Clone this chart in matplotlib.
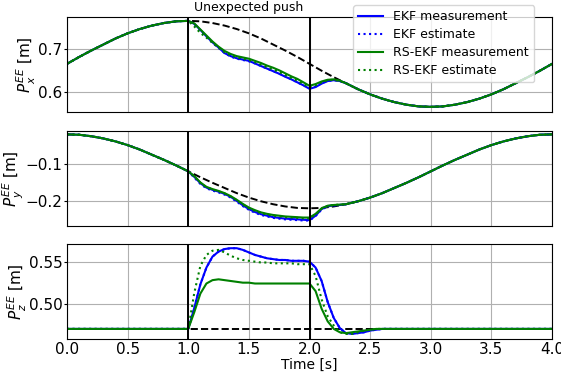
import numpy as np
import matplotlib
matplotlib.use("Agg")
import matplotlib.pyplot as plt

# reference trajectory (dashed), sampled every 0.1 s
t_ref = np.round(np.arange(0, 4.01, 0.1), 2)
x_ref = [0.665, 0.681, 0.696, 0.710, 0.724, 0.736, 0.746, 0.754, 0.760, 0.764, 0.765,
         0.764, 0.760, 0.754, 0.746, 0.736, 0.724, 0.710, 0.696, 0.681, 0.665,
         0.649, 0.634, 0.620, 0.606, 0.594, 0.584, 0.576, 0.570, 0.566, 0.565,
         0.566, 0.570, 0.576, 0.584, 0.594, 0.606, 0.620, 0.634, 0.649, 0.665]
y_ref = [-0.020, -0.021, -0.025, -0.031, -0.039, -0.049, -0.061, -0.075, -0.089, -0.104, -0.120,
         -0.136, -0.151, -0.165, -0.179, -0.191, -0.201, -0.209, -0.215, -0.219, -0.220,
         -0.219, -0.215, -0.209, -0.201, -0.191, -0.179, -0.165, -0.151, -0.136, -0.120,
         -0.104, -0.089, -0.075, -0.061, -0.049, -0.039, -0.031, -0.025, -0.021, -0.020]
z_ref = [0.470] * 41

# filter outputs during the push window (1.0 - 2.6 s, every 0.05 s)
t_push = np.round(np.arange(1.0, 2.601, 0.05), 2)

x_ekf_meas = [0.765, 0.758, 0.744, 0.729, 0.715, 0.703, 0.690, 0.683, 0.678, 0.675, 0.672,
              0.666, 0.660, 0.654, 0.648, 0.642, 0.635, 0.629, 0.622, 0.615, 0.607,
              0.611, 0.619, 0.625, 0.627, 0.625, 0.620, 0.613, 0.606, 0.600, 0.594, 0.589, 0.584]
x_ekf_est = [0.765, 0.757, 0.743, 0.728, 0.714, 0.702, 0.690, 0.682, 0.677, 0.674, 0.671,
             0.666, 0.660, 0.654, 0.648, 0.642, 0.636, 0.629, 0.622, 0.615, 0.608,
             0.612, 0.620, 0.625, 0.627, 0.625, 0.620, 0.613, 0.606, 0.600, 0.594, 0.589, 0.584]
x_rs_meas = [0.765, 0.759, 0.745, 0.731, 0.717, 0.705, 0.695, 0.688, 0.683, 0.680, 0.677,
             0.672, 0.667, 0.661, 0.656, 0.650, 0.643, 0.636, 0.630, 0.622, 0.614,
             0.618, 0.624, 0.628, 0.629, 0.626, 0.620, 0.613, 0.606, 0.600, 0.594, 0.589, 0.584]
x_rs_est = [0.765, 0.752, 0.737, 0.726, 0.714, 0.703, 0.692, 0.685, 0.680, 0.677, 0.674,
            0.669, 0.663, 0.657, 0.652, 0.646, 0.639, 0.632, 0.626, 0.618, 0.611,
            0.615, 0.622, 0.627, 0.628, 0.625, 0.620, 0.613, 0.606, 0.600, 0.594, 0.589, 0.584]

y_ekf_meas = [-0.120, -0.135, -0.152, -0.164, -0.170, -0.175, -0.181, -0.189, -0.200, -0.212, -0.222,
              -0.230, -0.236, -0.240, -0.244, -0.246, -0.248, -0.249, -0.250, -0.251, -0.252,
              -0.240, -0.222, -0.214, -0.212, -0.211, -0.209, -0.205, -0.201, -0.196, -0.191, -0.185, -0.179]
y_ekf_est = [-0.120, -0.137, -0.154, -0.166, -0.172, -0.177, -0.183, -0.191, -0.202, -0.214, -0.224,
             -0.232, -0.238, -0.242, -0.246, -0.248, -0.250, -0.251, -0.252, -0.253, -0.253,
             -0.241, -0.223, -0.215, -0.212, -0.211, -0.209, -0.205, -0.201, -0.196, -0.191, -0.185, -0.179]
y_rs_meas = [-0.120, -0.133, -0.150, -0.162, -0.168, -0.173, -0.179, -0.187, -0.197, -0.208, -0.218,
             -0.225, -0.231, -0.235, -0.238, -0.240, -0.242, -0.243, -0.244, -0.245, -0.245,
             -0.235, -0.220, -0.213, -0.211, -0.210, -0.209, -0.205, -0.201, -0.196, -0.191, -0.185, -0.179]
y_rs_est = [-0.120, -0.134, -0.151, -0.163, -0.169, -0.174, -0.180, -0.188, -0.198, -0.210, -0.220,
            -0.227, -0.233, -0.237, -0.240, -0.242, -0.244, -0.245, -0.246, -0.247, -0.247,
            -0.237, -0.221, -0.214, -0.211, -0.210, -0.209, -0.205, -0.201, -0.196, -0.191, -0.185, -0.179]

z_ekf_meas = [0.470, 0.495, 0.523, 0.543, 0.556, 0.562, 0.565, 0.566, 0.566, 0.564, 0.561,
              0.558, 0.556, 0.554, 0.553, 0.552, 0.552, 0.551, 0.551, 0.551, 0.550,
              0.543, 0.527, 0.502, 0.483, 0.471, 0.465, 0.464, 0.465, 0.466, 0.468, 0.469, 0.470]
z_ekf_est = list(z_ekf_meas)
z_rs_meas = [0.470, 0.490, 0.512, 0.524, 0.528, 0.529, 0.528, 0.527, 0.526, 0.525, 0.525,
             0.524, 0.524, 0.524, 0.524, 0.524, 0.524, 0.524, 0.524, 0.524, 0.524,
             0.515, 0.494, 0.479, 0.470, 0.466, 0.465, 0.466, 0.467, 0.468, 0.469, 0.470, 0.470]
z_rs_est = [0.470, 0.513, 0.545, 0.558, 0.563, 0.564, 0.561, 0.557, 0.554, 0.552, 0.551,
            0.550, 0.549, 0.549, 0.548, 0.548, 0.548, 0.548, 0.547, 0.547, 0.547,
            0.533, 0.505, 0.485, 0.474, 0.466, 0.464, 0.464, 0.466, 0.468, 0.469, 0.470, 0.470]


def full(ref, push):
    # reference outside the push window, filter values inside it
    ref = np.asarray(ref)
    before = t_ref < 1.0
    after = t_ref > 2.6
    tt = np.concatenate([t_ref[before], t_push, t_ref[after]])
    vv = np.concatenate([ref[before], push, ref[after]])
    return tt, vv


panels = [
    (x_ref, x_ekf_meas, x_ekf_est, x_rs_meas, x_rs_est, r'$P_x^{EE}$ [m]', (0.553, 0.774), [0.6, 0.7]),
    (y_ref, y_ekf_meas, y_ekf_est, y_rs_meas, y_rs_est, r'$P_y^{EE}$ [m]', (-0.268, -0.011), [-0.2, -0.1]),
    (z_ref, z_ekf_meas, z_ekf_est, z_rs_meas, z_rs_est, r'$P_z^{EE}$ [m]', (0.458, 0.571), [0.50, 0.55]),
]
bottoms = [0.7037, 0.402, 0.1032]

fig = plt.figure(figsize=(5.61, 3.78), dpi=100)
axes = []
for i, (ref, em, ee, rm, re, lab, ylim, yt) in enumerate(panels):
    ax = fig.add_axes([0.1194, bottoms[i], 0.8646, 0.2513])
    ax.plot(t_ref, ref, 'k--', lw=1.4)
    ax.plot(*full(ref, em), color='blue', lw=1.5, label='EKF measurement')
    ax.plot(*full(ref, ee), color='blue', ls=':', lw=1.5, label='EKF estimate')
    ax.plot(*full(ref, rm), color='green', lw=1.5, label='RS-EKF measurement')
    ax.plot(*full(ref, re), color='green', ls=':', lw=1.5, label='RS-EKF estimate')
    ax.axvline(1.0, color='k', lw=1.4)
    ax.axvline(2.0, color='k', lw=1.4)
    ax.set_xlim(0, 4)
    ax.set_ylim(*ylim)
    ax.set_yticks(yt)
    ax.set_xticks(np.arange(0, 4.01, 0.5))
    ax.grid(True)
    ax.set_ylabel(lab, fontsize=11, labelpad=0)
    ax.tick_params(labelsize=11)
    ax.tick_params(axis='x', length=0, pad=2.5)
    ax.tick_params(axis='y', length=2.5, pad=0.8)
    if i < 2:
        ax.tick_params(labelbottom=False)
    axes.append(ax)

axes[0].text(1.5, 1.03, 'Unexpected push', transform=axes[0].get_xaxis_transform(),
             ha='center', va='bottom', fontsize=9)
axes[2].set_xlabel('Time [s]', fontsize=10, labelpad=0)

h, l = axes[0].get_legend_handles_labels()
fig.legend(h, l, loc='upper right', bbox_to_anchor=(534 / 561, 1 - 5 / 378),
           borderaxespad=0, fontsize=9, labelspacing=0.4)

fig.savefig('out.png', dpi=100)
